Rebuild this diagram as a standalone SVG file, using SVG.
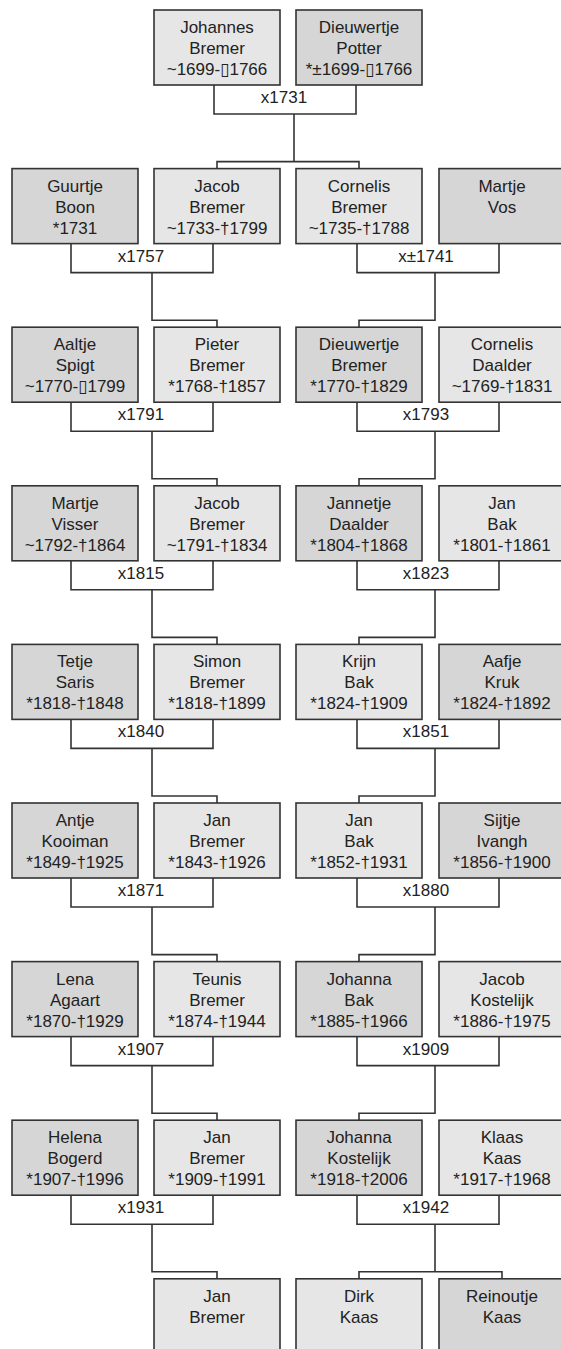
<svg xmlns="http://www.w3.org/2000/svg" width="561" height="1349" viewBox="0 0 561 1349">
<style>
.m{fill:#e6e6e6;stroke:#333;stroke-width:1.6}
.f{fill:#d6d6d6;stroke:#333;stroke-width:1.6}
text{font-family:"Liberation Sans","DejaVu Sans",Arial,sans-serif;font-size:17px;fill:#222;text-anchor:middle}
.c path{fill:none;stroke:#333;stroke-width:1.6}
</style>
<rect width="561" height="1349" fill="#fff"/>
<g id="connectors" class="c">
<!-- row 0 -->
<path d="M214,85 V114 H356 V85"/>
<path d="M294,114 V161.6 M217,168.6 V161.6 H359 V168.6"/>
<!-- row 1 -->
<path d="M71,243.6 V272.6 H213 V243.6"/>
<path d="M152,272.6 V320.2 H217 V327.2"/>
<path d="M357,243.6 V272.6 H499 V243.6"/>
<path d="M435,272.6 V320.2 H359 V327.2"/>
<!-- row 2 -->
<path d="M71,402.2 V431.2 H213 V402.2"/>
<path d="M152,431.2 V478.8 H217 V485.8"/>
<path d="M357,402.2 V431.2 H499 V402.2"/>
<path d="M435,431.2 V478.8 H359 V485.8"/>
<!-- row 3 -->
<path d="M71,560.8 V589.8 H213 V560.8"/>
<path d="M152,589.8 V637.4 H217 V644.4"/>
<path d="M357,560.8 V589.8 H499 V560.8"/>
<path d="M435,589.8 V637.4 H359 V644.4"/>
<!-- row 4 -->
<path d="M71,719.4 V748.4 H213 V719.4"/>
<path d="M152,748.4 V796 H217 V803"/>
<path d="M357,719.4 V748.4 H499 V719.4"/>
<path d="M435,748.4 V796 H359 V803"/>
<!-- row 5 -->
<path d="M71,878 V907 H213 V878"/>
<path d="M152,907 V954.6 H217 V961.6"/>
<path d="M357,878 V907 H499 V878"/>
<path d="M435,907 V954.6 H359 V961.6"/>
<!-- row 6 -->
<path d="M71,1036.6 V1065.6 H213 V1036.6"/>
<path d="M152,1065.6 V1113.2 H217 V1120.2"/>
<path d="M357,1036.6 V1065.6 H499 V1036.6"/>
<path d="M435,1065.6 V1113.2 H359 V1120.2"/>
<!-- row 7 -->
<path d="M71,1195.2 V1224.2 H213 V1195.2"/>
<path d="M152,1224.2 V1271.8 H217 V1278.8"/>
<path d="M357,1195.2 V1224.2 H499 V1195.2"/>
<path d="M435,1224.2 V1271.8 M359,1278.8 V1271.8 H502 V1278.8"/>
</g>
<g id="marriage-labels">
<text x="284" y="103">x1731</text>
<text x="141" y="261.6">x1757</text>
<text x="426" y="261.6">x±1741</text>
<text x="141" y="420.2">x1791</text>
<text x="426" y="420.2">x1793</text>
<text x="141" y="578.8">x1815</text>
<text x="426" y="578.8">x1823</text>
<text x="141" y="737.4">x1840</text>
<text x="426" y="737.4">x1851</text>
<text x="141" y="896">x1871</text>
<text x="426" y="896">x1880</text>
<text x="141" y="1054.6">x1907</text>
<text x="426" y="1054.6">x1909</text>
<text x="141" y="1213.2">x1931</text>
<text x="426" y="1213.2">x1942</text>
</g>
<!-- row 0 -->
<g id="johannes-bremer" transform="translate(154,10)"><rect class="m" width="126" height="75"/><text x="63" y="23">Johannes</text><text x="63" y="44">Bremer</text><text x="63" y="65">~1699-▯1766</text></g>
<g id="dieuwertje-potter" transform="translate(296,10)"><rect class="f" width="126" height="75"/><text x="63" y="23">Dieuwertje</text><text x="63" y="44">Potter</text><text x="63" y="65">*±1699-▯1766</text></g>
<!-- row 1 -->
<g id="guurtje-boon" transform="translate(12,168.6)"><rect class="f" width="126" height="75"/><text x="63" y="23">Guurtje</text><text x="63" y="44">Boon</text><text x="63" y="65">*1731</text></g>
<g id="jacob-bremer-1733" transform="translate(154,168.6)"><rect class="m" width="126" height="75"/><text x="63" y="23">Jacob</text><text x="63" y="44">Bremer</text><text x="63" y="65">~1733-†1799</text></g>
<g id="cornelis-bremer" transform="translate(296,168.6)"><rect class="m" width="126" height="75"/><text x="63" y="23">Cornelis</text><text x="63" y="44">Bremer</text><text x="63" y="65">~1735-†1788</text></g>
<g id="martje-vos" transform="translate(439,168.6)"><rect class="f" width="126" height="75"/><text x="63" y="23">Martje</text><text x="63" y="44">Vos</text></g>
<!-- row 2 -->
<g id="aaltje-spigt" transform="translate(12,327.2)"><rect class="f" width="126" height="75"/><text x="63" y="23">Aaltje</text><text x="63" y="44">Spigt</text><text x="63" y="65">~1770-▯1799</text></g>
<g id="pieter-bremer" transform="translate(154,327.2)"><rect class="m" width="126" height="75"/><text x="63" y="23">Pieter</text><text x="63" y="44">Bremer</text><text x="63" y="65">*1768-†1857</text></g>
<g id="dieuwertje-bremer" transform="translate(296,327.2)"><rect class="f" width="126" height="75"/><text x="63" y="23">Dieuwertje</text><text x="63" y="44">Bremer</text><text x="63" y="65">*1770-†1829</text></g>
<g id="cornelis-daalder" transform="translate(439,327.2)"><rect class="m" width="126" height="75"/><text x="63" y="23">Cornelis</text><text x="63" y="44">Daalder</text><text x="63" y="65">~1769-†1831</text></g>
<!-- row 3 -->
<g id="martje-visser" transform="translate(12,485.8)"><rect class="f" width="126" height="75"/><text x="63" y="23">Martje</text><text x="63" y="44">Visser</text><text x="63" y="65">~1792-†1864</text></g>
<g id="jacob-bremer-1791" transform="translate(154,485.8)"><rect class="m" width="126" height="75"/><text x="63" y="23">Jacob</text><text x="63" y="44">Bremer</text><text x="63" y="65">~1791-†1834</text></g>
<g id="jannetje-daalder" transform="translate(296,485.8)"><rect class="f" width="126" height="75"/><text x="63" y="23">Jannetje</text><text x="63" y="44">Daalder</text><text x="63" y="65">*1804-†1868</text></g>
<g id="jan-bak-1801" transform="translate(439,485.8)"><rect class="m" width="126" height="75"/><text x="63" y="23">Jan</text><text x="63" y="44">Bak</text><text x="63" y="65">*1801-†1861</text></g>
<!-- row 4 -->
<g id="tetje-saris" transform="translate(12,644.4)"><rect class="f" width="126" height="75"/><text x="63" y="23">Tetje</text><text x="63" y="44">Saris</text><text x="63" y="65">*1818-†1848</text></g>
<g id="simon-bremer" transform="translate(154,644.4)"><rect class="m" width="126" height="75"/><text x="63" y="23">Simon</text><text x="63" y="44">Bremer</text><text x="63" y="65">*1818-†1899</text></g>
<g id="krijn-bak" transform="translate(296,644.4)"><rect class="m" width="126" height="75"/><text x="63" y="23">Krijn</text><text x="63" y="44">Bak</text><text x="63" y="65">*1824-†1909</text></g>
<g id="aafje-kruk" transform="translate(439,644.4)"><rect class="f" width="126" height="75"/><text x="63" y="23">Aafje</text><text x="63" y="44">Kruk</text><text x="63" y="65">*1824-†1892</text></g>
<!-- row 5 -->
<g id="antje-kooiman" transform="translate(12,803)"><rect class="f" width="126" height="75"/><text x="63" y="23">Antje</text><text x="63" y="44">Kooiman</text><text x="63" y="65">*1849-†1925</text></g>
<g id="jan-bremer-1843" transform="translate(154,803)"><rect class="m" width="126" height="75"/><text x="63" y="23">Jan</text><text x="63" y="44">Bremer</text><text x="63" y="65">*1843-†1926</text></g>
<g id="jan-bak-1852" transform="translate(296,803)"><rect class="m" width="126" height="75"/><text x="63" y="23">Jan</text><text x="63" y="44">Bak</text><text x="63" y="65">*1852-†1931</text></g>
<g id="sijtje-ivangh" transform="translate(439,803)"><rect class="f" width="126" height="75"/><text x="63" y="23">Sijtje</text><text x="63" y="44">Ivangh</text><text x="63" y="65">*1856-†1900</text></g>
<!-- row 6 -->
<g id="lena-agaart" transform="translate(12,961.6)"><rect class="f" width="126" height="75"/><text x="63" y="23">Lena</text><text x="63" y="44">Agaart</text><text x="63" y="65">*1870-†1929</text></g>
<g id="teunis-bremer" transform="translate(154,961.6)"><rect class="m" width="126" height="75"/><text x="63" y="23">Teunis</text><text x="63" y="44">Bremer</text><text x="63" y="65">*1874-†1944</text></g>
<g id="johanna-bak" transform="translate(296,961.6)"><rect class="f" width="126" height="75"/><text x="63" y="23">Johanna</text><text x="63" y="44">Bak</text><text x="63" y="65">*1885-†1966</text></g>
<g id="jacob-kostelijk" transform="translate(439,961.6)"><rect class="m" width="126" height="75"/><text x="63" y="23">Jacob</text><text x="63" y="44">Kostelijk</text><text x="63" y="65">*1886-†1975</text></g>
<!-- row 7 -->
<g id="helena-bogerd" transform="translate(12,1120.2)"><rect class="f" width="126" height="75"/><text x="63" y="23">Helena</text><text x="63" y="44">Bogerd</text><text x="63" y="65">*1907-†1996</text></g>
<g id="jan-bremer-1909" transform="translate(154,1120.2)"><rect class="m" width="126" height="75"/><text x="63" y="23">Jan</text><text x="63" y="44">Bremer</text><text x="63" y="65">*1909-†1991</text></g>
<g id="johanna-kostelijk" transform="translate(296,1120.2)"><rect class="f" width="126" height="75"/><text x="63" y="23">Johanna</text><text x="63" y="44">Kostelijk</text><text x="63" y="65">*1918-†2006</text></g>
<g id="klaas-kaas" transform="translate(439,1120.2)"><rect class="m" width="126" height="75"/><text x="63" y="23">Klaas</text><text x="63" y="44">Kaas</text><text x="63" y="65">*1917-†1968</text></g>
<!-- row 8 -->
<g id="jan-bremer-last" transform="translate(154,1278.8)"><rect class="m" width="126" height="75"/><text x="63" y="23">Jan</text><text x="63" y="44">Bremer</text></g>
<g id="dirk-kaas" transform="translate(296,1278.8)"><rect class="m" width="126" height="75"/><text x="63" y="23">Dirk</text><text x="63" y="44">Kaas</text></g>
<g id="reinoutje-kaas" transform="translate(439,1278.8)"><rect class="f" width="126" height="75"/><text x="63" y="23">Reinoutje</text><text x="63" y="44">Kaas</text></g>
</svg>
